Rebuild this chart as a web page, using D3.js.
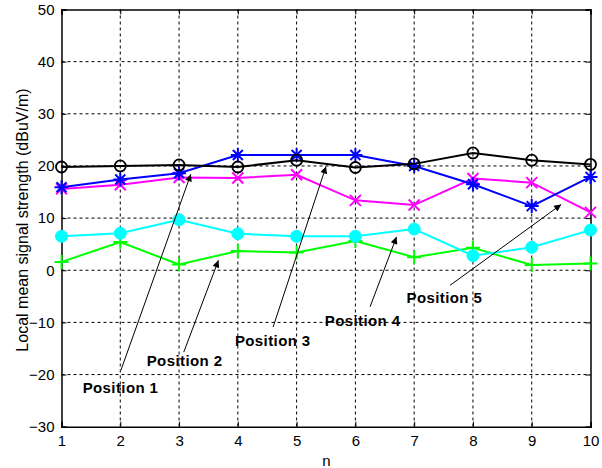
<!DOCTYPE html>
<html>
<head>
<meta charset="utf-8">
<script src="https://cdn.jsdelivr.net/npm/d3@7"></script>
<style>
  body { margin: 0; background: #fff; }
  svg { display: block; }
</style>
</head>
<body>
<div id="chart"></div>
<script>
// values
var nValues = [1, 2, 3, 4, 5, 6, 7, 8, 9, 10];
var pos1 = [19.8, 20.0, 20.2, 19.8, 21.1, 19.7, 20.4, 22.5, 21.1, 20.3];   // black o
var pos2 = [15.9, 17.4, 18.6, 22.1, 22.1, 22.1, 20.0, 16.5, 12.3, 17.9];   // blue *
var pos3 = [15.6, 16.4, 17.8, 17.7, 18.3, 13.4, 12.5, 17.6, 16.8, 11.1];   // magenta x
var pos4 = [6.5, 7.1, 9.7, 7.0, 6.5, 6.5, 7.9, 2.8, 4.4, 7.7];             // cyan filled o
var pos5 = [1.6, 5.4, 1.1, 3.7, 3.4, 5.6, 2.5, 4.3, 1.0, 1.3];             // green +
var xTicks = [1, 2, 3, 4, 5, 6, 7, 8, 9, 10];
var yTicks = [-30, -20, -10, 0, 10, 20, 30, 40, 50];
var annLabels = ["Position 1", "Position 2", "Position 3", "Position 4", "Position 5"];
var annTextX = [1.36, 2.45, 3.95, 5.48, 6.87];
var annTextY = [-22.6, -17.3, -13.6, -9.6, -5.2];
var annTail = [[2.01, -19.2], [3.08, -15.7], [4.60, -10.9], [6.25, -7.0], [7.61, -2.9]];
var annHead = [[3.20, 18.4], [3.67, 1.9], [5.50, 19.9], [6.70, 6.4], [9.50, 12.6]];

var W = 602, H = 468;
var pLeft = 61.5, pRight = 590.5, pTop = 9.5, pBottom = 426.7;

var svg = d3.select("#chart").append("svg")
    .attr("width", W).attr("height", H)
    .style("font-family", "Arial, 'Liberation Sans', sans-serif");

var x = d3.scaleLinear().domain([1, 10]).range([pLeft, pRight]);
var y = d3.scaleLinear().domain([-30, 50]).range([pBottom, pTop]);

// grid
var grid = svg.append("g");
grid.selectAll(".gx").data(xTicks.slice(1, -1)).enter().append("line")
    .attr("x1", d => x(d)).attr("x2", d => x(d))
    .attr("y1", pTop).attr("y2", pBottom)
    .attr("stroke", "#000").attr("stroke-width", 1).attr("stroke-dasharray", "3,3");
grid.selectAll(".gy").data(yTicks.slice(1, -1)).enter().append("line")
    .attr("y1", d => y(d)).attr("y2", d => y(d))
    .attr("x1", pLeft).attr("x2", pRight)
    .attr("stroke", "#000").attr("stroke-width", 1).attr("stroke-dasharray", "3,3");

// axes (ticks point inward like matlab)
var xAxis = d3.axisBottom(x).tickValues(xTicks).tickSize(-5).tickPadding(9).tickFormat(d3.format("d"));
var yAxis = d3.axisLeft(y).tickValues(yTicks).tickSize(-5).tickPadding(7).tickFormat(d3.format("d"));
var gx = svg.append("g").attr("transform", "translate(0," + pBottom + ")").call(xAxis);
var gy = svg.append("g").attr("transform", "translate(" + pLeft + ",0)").call(yAxis);
svg.append("g").attr("transform", "translate(0," + pTop + ")")
    .call(d3.axisTop(x).tickValues(xTicks).tickSize(-5).tickFormat(""));
svg.append("g").attr("transform", "translate(" + pRight + ",0)")
    .call(d3.axisRight(y).tickValues(yTicks).tickSize(-5).tickFormat(""));
svg.selectAll(".domain").attr("stroke", "#000").attr("stroke-width", 1.5);
svg.selectAll(".tick line").attr("stroke", "#000");
[gx, gy].forEach(g => g.selectAll("text").attr("font-size", 15).attr("fill", "#000")
    .style("font-family", "Arial, 'Liberation Sans', sans-serif"));

// series
var series = [
  {vals: pos1, color: "#000000", marker: "o"},
  {vals: pos2, color: "#0000ff", marker: "*"},
  {vals: pos3, color: "#ff00ff", marker: "x"},
  {vals: pos4, color: "#00ffff", marker: "dot"},
  {vals: pos5, color: "#00ff00", marker: "+"}
];
var line = d3.line().x((d, i) => x(nValues[i])).y(d => y(d));

// draw in reverse so black sits on top
series.slice().reverse().forEach(function(s) {
  svg.append("path").datum(s.vals)
      .attr("d", line).attr("fill", "none")
      .attr("stroke", s.color).attr("stroke-width", 2);
  var g = svg.append("g");
  var pts = g.selectAll("g").data(s.vals).enter().append("g")
      .attr("transform", (d, i) => "translate(" + x(nValues[i]) + "," + y(d) + ")");
  if (s.marker == "o") {
    pts.append("circle").attr("r", 5.5).attr("fill", "none")
        .attr("stroke", s.color).attr("stroke-width", 1.8);
  } else if (s.marker == "dot") {
    pts.append("circle").attr("r", 6).attr("fill", s.color).attr("stroke", s.color);
  } else if (s.marker == "+") {
    pts.append("path").attr("d", "M-7,0H7M0,-7V7")
        .attr("stroke", s.color).attr("stroke-width", 2);
  } else if (s.marker == "x") {
    pts.append("path").attr("d", "M-5.5,-5.5L5.5,5.5M-5.5,5.5L5.5,-5.5")
        .attr("stroke", s.color).attr("stroke-width", 2);
  } else if (s.marker == "*") {
    pts.append("path").attr("d", "M-7,0H7M0,-7V7M-5,-5L5,5M-5,5L5,-5")
        .attr("stroke", s.color).attr("stroke-width", 2);
  }
});

// annotations
svg.append("defs").append("marker")
    .attr("id", "ah").attr("viewBox", "0 0 10 10")
    .attr("refX", 10).attr("refY", 5)
    .attr("markerWidth", 10).attr("markerHeight", 7)
    .attr("markerUnits", "userSpaceOnUse")
    .attr("orient", "auto")
  .append("path").attr("d", "M0,0L10,5L0,10z").attr("fill", "#000");

annLabels.forEach(function(lab, i) {
  svg.append("line")
      .attr("x1", x(annTail[i][0])).attr("y1", y(annTail[i][1]))
      .attr("x2", x(annHead[i][0])).attr("y2", y(annHead[i][1]))
      .attr("stroke", "#000").attr("stroke-width", 1)
      .attr("marker-end", "url(#ah)");
  svg.append("text")
      .attr("x", x(annTextX[i])).attr("y", y(annTextY[i]))
      .attr("dy", "0.35em")
      .attr("font-size", 15).attr("font-weight", "bold")
      .attr("letter-spacing", 0.4)
      .text(lab);
});

// axis labels
svg.append("text")
    .attr("x", (pLeft + pRight) / 2 + 0.5).attr("y", 466)
    .attr("text-anchor", "middle").attr("font-size", 15)
    .text("n");
svg.append("text")
    .attr("transform", "translate(28,220) rotate(-90)")
    .attr("text-anchor", "middle").attr("font-size", 16)
    .text("Local mean signal strength (dBuV/m)");
</script>
</body>
</html>
